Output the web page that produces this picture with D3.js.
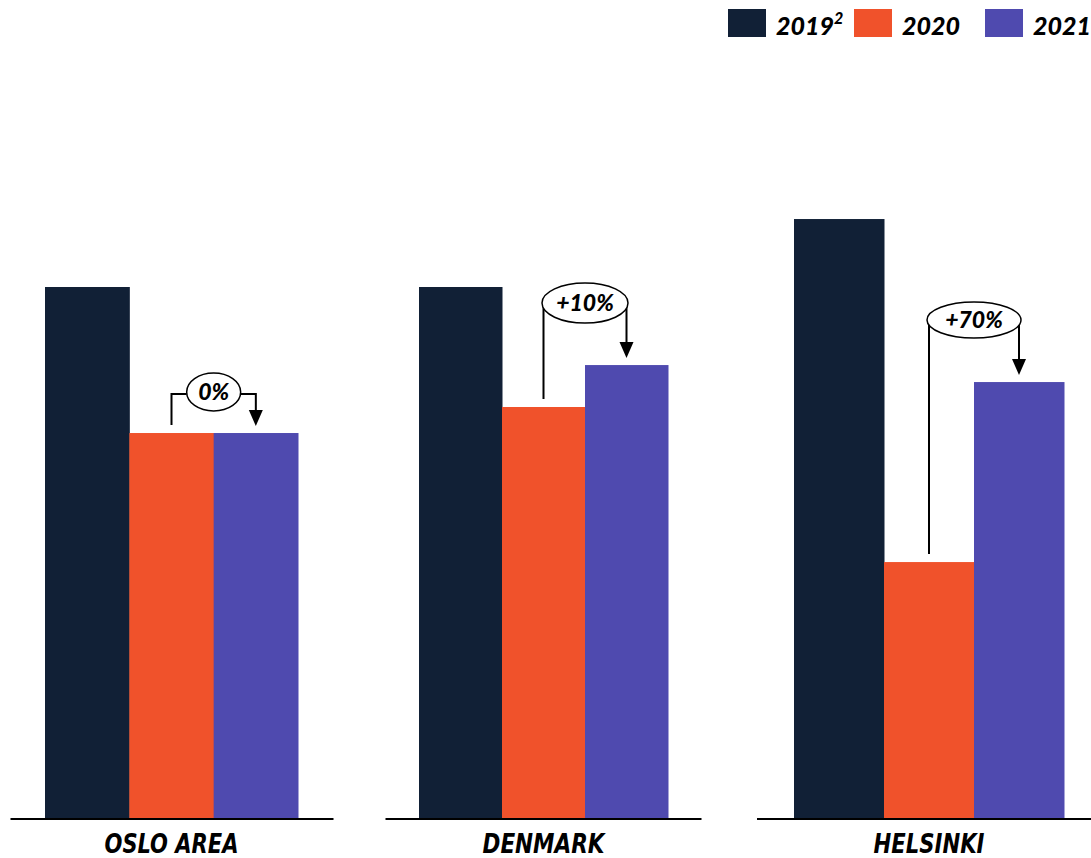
<!DOCTYPE html>
<html><head><meta charset="utf-8">
<script src="https://cdn.jsdelivr.net/npm/d3@7"></script>
<style>html,body{margin:0;padding:0;background:#fff;}</style>
</head><body>
<svg id="c" width="1091" height="858"></svg>
<script>
// ---- data ----
const categories = ["OSLO AREA", "DENMARK", "HELSINKI"];
const series = ["2019", "2020", "2021"];
const values2019 = [100, 100, 112.8];
const values2020 = [72.5, 77.4, 48.2];
const values2021 = [72.5, 85.3, 82.1];
const changeLabels = ["0%", "+10%", "+70%"];

// ---- layout / style ----
const W = 1091, H = 858, baseY = 818;
const colors = {"2019": "#112036", "2020": "#F0522B", "2021": "#4F4AAF"};
const groupCenters = [171.5, 543.5, 929];
const groupWidths = [253, 249, 270];
const lineHalf = [[161, 162], [158, 158], [172, 200]];
const labelLen = [134, 122, 111];
const annoLift = [41, 62, 62];
const ellipseR = [[27, 19], [43, 20], [47, 18]];

const svg = d3.select("#c");
const y = d3.scaleLinear().domain([0, 100]).range([baseY, 287]);
const xc = d3.scaleOrdinal().domain(categories).range(groupCenters);
const wScale = d3.scaleOrdinal().domain(categories).range(groupWidths);

const rows = categories.map((c, i) => ({
  cat: c, i,
  vals: [values2019[i], values2020[i], values2021[i]]
}));

rows.forEach(r => {
  const gw = wScale(r.cat);
  const xb = d3.scaleBand().domain(series).range([xc(r.cat) - gw / 2, xc(r.cat) + gw / 2]).padding(0);
  const g = svg.append("g");
  g.selectAll("rect").data(series.map((s, k) => ({s, v: r.vals[k]}))).join("rect")
    .attr("x", d => xb(d.s))
    .attr("width", xb.bandwidth() + 0.5)
    .attr("y", d => y(d.v))
    .attr("height", d => baseY - y(d.v))
    .attr("fill", d => colors[d.s]);
  // baseline
  g.append("line")
    .attr("x1", xc(r.cat) - lineHalf[r.i][0]).attr("x2", xc(r.cat) + lineHalf[r.i][1])
    .attr("y1", baseY + 1).attr("y2", baseY + 1)
    .attr("stroke", "#000").attr("stroke-width", 2);
  // category label
  g.append("text")
    .attr("x", xc(r.cat) - labelLen[r.i] / 2).attr("y", 853)
    .attr("font-family", "'DejaVu Sans Condensed', 'DejaVu Sans', sans-serif")
    .attr("font-weight", "bold").attr("font-style", "italic")
    .attr("font-size", 26)
    .attr("textLength", labelLen[r.i]).attr("lengthAdjust", "spacingAndGlyphs")
    .text(r.cat);

  // annotation
  const xL = xb("2020") + xb.bandwidth() / 2;
  const xR = xb("2021") + xb.bandwidth() / 2;
  const xE = xb("2021");
  const topL = y(r.vals[1]) - 8;
  const topR = y(r.vals[2]) - 8;
  const eY = y(Math.max(r.vals[1], r.vals[2])) - annoLift[r.i];
  const [rx, ry] = ellipseR[r.i];
  const a = svg.append("g");
  let path;
  if (xE - rx > xL + 2) {
    path = `M${xL},${topL} V${eY + 2} H${xE - rx} M${xE + rx},${eY + 2} H${xR} V${topR - 14}`;
  } else {
    path = `M${xL},${topL} V${eY} M${xR},${eY} V${topR - 14}`;
  }
  a.append("path").attr("d", path).attr("fill", "none").attr("stroke", "#000").attr("stroke-width", 2);
  a.append("path")
    .attr("d", `M${xR - 7},${topR - 15} L${xR + 7},${topR - 15} L${xR},${topR + 1} Z`)
    .attr("fill", "#000");
  a.append("ellipse").attr("cx", xE).attr("cy", eY).attr("rx", rx).attr("ry", ry)
    .attr("fill", "#fff").attr("stroke", "#000").attr("stroke-width", 1.5);
  a.append("text").attr("x", xE).attr("y", eY + 8)
    .attr("text-anchor", "middle")
    .attr("font-family", "Lato, sans-serif").attr("font-weight", 900).attr("font-style", "italic")
    .attr("font-size", 23)
    .text(changeLabels[r.i]);
});

// legend
const legX = [728, 854, 985];
const leg = svg.append("g");
series.forEach((s, k) => {
  leg.append("rect").attr("x", legX[k]).attr("y", 9).attr("width", 38).attr("height", 28).attr("fill", colors[s]);
  const t = leg.append("text").attr("x", legX[k] + 48).attr("y", 35)
    .attr("font-family", "Lato, sans-serif").attr("font-weight", 900).attr("font-style", "italic")
    .attr("font-size", 25);
  t.append("tspan").text(s);
  if (k === 0) t.append("tspan").attr("font-size", 16).attr("dy", -11).text("2");
});
</script>
</body></html>
